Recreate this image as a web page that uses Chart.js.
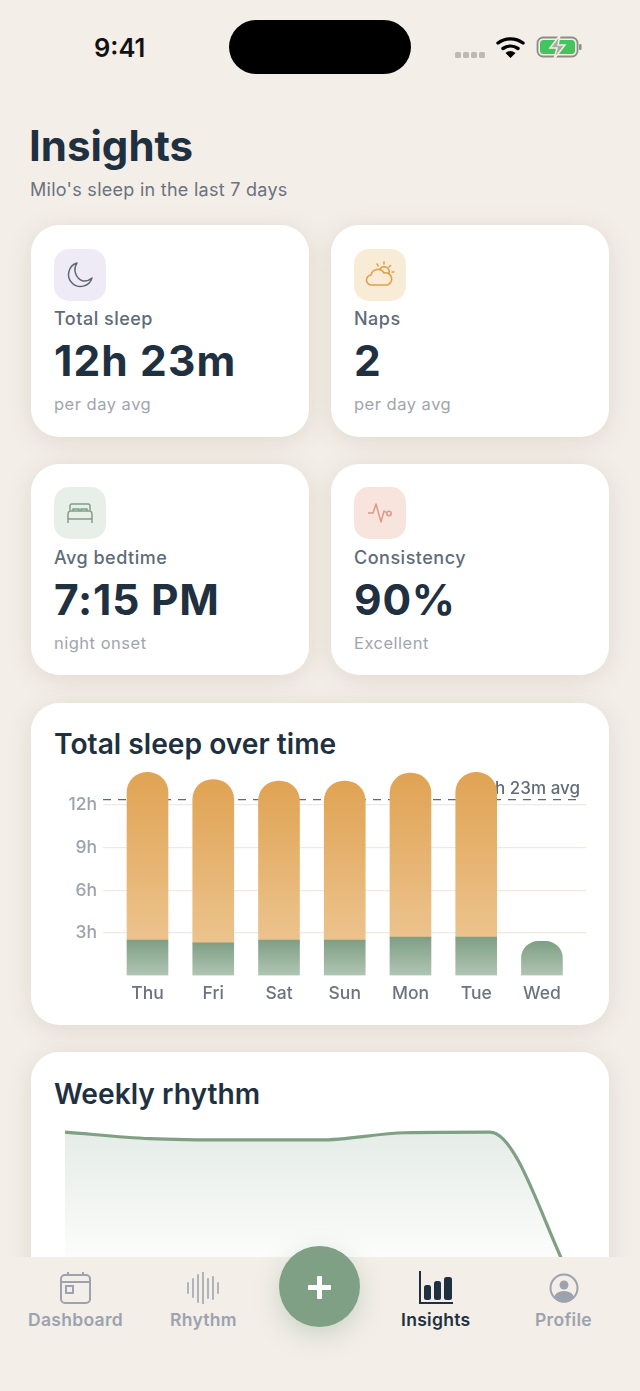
<!DOCTYPE html>
<html><head><meta charset="utf-8">
<script src="https://cdn.jsdelivr.net/npm/chart.js@4"></script>
<style>
*{box-sizing:border-box;margin:0;padding:0}
html,body{width:640px;height:1391px;overflow:hidden;background:#f3eee8;font-family:Inter,sans-serif;-webkit-font-smoothing:antialiased}
.abs,.card,.t{position:absolute}
.t{white-space:nowrap;line-height:1}
.card{background:#fff;border-radius:28px;box-shadow:0 4px 24px rgba(120,100,70,.15)}
.ic{position:absolute;width:52px;height:52px;border-radius:15px;display:flex;align-items:center;justify-content:center}
.lab{font-size:18px;font-weight:500;color:#5f6b76;letter-spacing:.5px}
.val{font-size:42.5px;font-weight:700;color:#1f3040;letter-spacing:.8px}
.sub{font-size:16.5px;color:#a0a5ad;letter-spacing:.5px}
.h2{font-size:28.2px;font-weight:600;color:#1f3040}
.nl{font-size:17.5px;font-weight:600;color:#9ca3af;letter-spacing:.3px}
canvas{position:absolute}
</style></head><body>
<div class="t" style="left:94px;top:35px;font-size:25.5px;font-weight:600;color:#111">9:41</div>
<div class="abs" style="left:229px;top:20px;width:182px;height:54px;border-radius:27px;background:#000"></div>
<svg class="abs" style="left:450px;top:30px" width="140" height="34" viewBox="0 0 140 34">
 <g fill="#bdbab5"><rect x="5" y="22" width="6" height="6" rx="1.5"/><rect x="13" y="22" width="6" height="6" rx="1.5"/><rect x="21" y="22" width="6" height="6" rx="1.5"/><rect x="29" y="22" width="6" height="6" rx="1.5"/></g>
 <g fill="none" stroke="#000" stroke-width="3.4" stroke-linecap="round"><path d="M48 13a21 21 0 0 1 25 0"/><path d="M53 18.500a13 13 0 0 1 15 0"/></g><path d="M60.500 28l-5-5a8 8 0 0 1 10 0z" fill="#000"/>
 <rect x="87.500" y="7.500" width="40" height="19" rx="5.500" fill="#f3eee8" stroke="#8d8d88" stroke-width="1.800"/>
 <rect x="90" y="10" width="35" height="14" rx="3.500" fill="#42c55c"/>
 <rect x="129" y="14" width="2.500" height="6" rx="1" fill="#8d8d88"/>
 <path d="M110 5l-10 13h7l-3 11 11-14h-7z" fill="#a9aca6" stroke="#f3eee8" stroke-width="1.500"/>
</svg>

<div class="t" style="left:29px;top:125px;font-size:42px;font-weight:700;color:#1f3040">Insights</div>
<div class="t" style="left:30px;top:181px;font-size:18px;color:#6b7280;letter-spacing:.27px">Milo's sleep in the last 7 days</div>

<div class="card" style="left:31px;top:225px;width:278px;height:212px"></div>
<div class="ic" style="left:54px;top:249px;background:#eeebf7"><svg width="30" height="30" viewBox="0 0 30 30" fill="none" stroke="#5f6675" stroke-width="1.500"><path d="M12 3a12 12 0 1 0 15 15 12 12 0 0 1-9 3 12 12 0 0 1-6-18z" stroke-linejoin="round"/></svg></div>
<div class="t lab" style="left:54px;top:310px">Total sleep</div>
<div class="t val" style="left:54px;top:340px;letter-spacing:1.1px">12h 23m</div>
<div class="t sub" style="left:54px;top:396px">per day avg</div>

<div class="card" style="left:331px;top:225px;width:278px;height:212px"></div>
<div class="ic" style="left:354px;top:249px;background:#f8ecd6"><svg width="34" height="30" viewBox="0 0 34 30" fill="none" stroke="#e0a04e" stroke-width="1.600" stroke-linecap="round"><path d="M9 25a5 5 0 0 1-1-10 7 7 0 0 1 13-2 6 6 0 0 1 3 12z"/><path d="M17 9a5 5 0 0 1 9 4M21 2v2M29 12h2M27.500 5.500l-1.500 1.500M14 4l1 2"/></svg></div>
<div class="t lab" style="left:354px;top:310px">Naps</div>
<div class="t val" style="left:354px;top:340px">2</div>
<div class="t sub" style="left:354px;top:396px">per day avg</div>

<div class="card" style="left:31px;top:464px;width:278px;height:211px"></div>
<div class="ic" style="left:54px;top:487px;background:#e8efe8"><svg width="30" height="30" viewBox="0 0 30 30" fill="none" stroke="#7fa084" stroke-width="1.500"><path d="M5 13V8a2 2 0 0 1 2-2h16a2 2 0 0 1 2 2v5M3 25v-9a3 3 0 0 1 2-3h20a3 3 0 0 1 2 3v9M3 21h24M8 13v-2h6v2M16 13v-2h6v2"/></svg></div>
<div class="t lab" style="left:54px;top:549px">Avg bedtime</div>
<div class="t val" style="left:54px;top:579px">7:15 PM</div>
<div class="t sub" style="left:54px;top:635px">night onset</div>

<div class="card" style="left:331px;top:464px;width:278px;height:211px"></div>
<div class="ic" style="left:354px;top:487px;background:#f7e4dd"><svg width="30" height="30" viewBox="0 0 30 30" fill="none" stroke="#dc9a88" stroke-width="1.500" stroke-linejoin="round"><path d="M3 15h5l3-9 5 18 3-11 3 2"/><circle cx="24" cy="15.500" r="2.200"/></svg></div>
<div class="t lab" style="left:354px;top:549px">Consistency</div>
<div class="t val" style="left:354px;top:579px">90%</div>
<div class="t sub" style="left:354px;top:635px">Excellent</div>

<div class="card" style="left:31px;top:703px;width:578px;height:322px"></div>
<div class="t h2" style="left:54px;top:730px">Total sleep over time</div>
<canvas id="bars" style="left:31px;top:746px;width:578px;height:265px" width="578" height="265"></canvas>

<div class="card" style="left:31px;top:1052px;width:578px;height:420px"></div>
<div class="t h2" style="left:54px;top:1080px">Weekly rhythm</div>
<canvas id="line" style="left:31px;top:1120px;width:578px;height:200px" width="578" height="200"></canvas>

<div class="abs" style="left:0;top:1257px;width:640px;height:134px;background:#f3eee8"></div>
<svg class="abs" style="left:59px;top:1272px" width="33" height="33" viewBox="0 0 33 33" fill="none" stroke="#9ca3af" stroke-width="2"><rect x="2" y="3" width="29" height="28" rx="4"/><path d="M2 10h29M9 0v4M24 0v4"/><rect x="7" y="14" width="7" height="7"/></svg>
<div class="t nl" style="left:28px;top:1311px">Dashboard</div>
<svg class="abs" style="left:186px;top:1272px" width="35" height="32" viewBox="0 0 35 32" stroke="#a7adb5" stroke-width="1.800" stroke-linecap="round"><path d="M2 11v10M7 7v18M12 3v27M17 0v32M22 7v19M27 5v22M32 11v10"/></svg>
<div class="t nl" style="left:170px;top:1311px">Rhythm</div>
<div class="abs" style="left:279px;top:1246px;width:81px;height:81px;border-radius:50%;background:#7fa084;box-shadow:0 8px 24px rgba(127,160,132,.35)"></div>
<svg class="abs" style="left:307px;top:1275px" width="25" height="25" viewBox="0 0 25 25" fill="#fff"><rect x="10" y="1" width="5" height="23" rx="1"/><rect x="1" y="10" width="23" height="5" rx="1"/></svg>
<svg class="abs" style="left:419px;top:1271px" width="35" height="34" viewBox="0 0 35 34" fill="#1f3040"><path d="M1 0v32h33" fill="none" stroke="#1f3040" stroke-width="2"/><rect x="5" y="14" width="7" height="15" rx="2.500"/><rect x="15" y="10" width="7" height="19" rx="2.500"/><rect x="25" y="6" width="8" height="23" rx="2.500"/></svg>
<div class="t nl" style="left:401px;top:1311px;color:#1f3040">Insights</div>
<svg class="abs" style="left:549px;top:1273px" width="30" height="30" viewBox="0 0 30 30"><circle cx="15" cy="15" r="13.500" fill="none" stroke="#9ca3af" stroke-width="2"/><circle cx="15" cy="12" r="4.500" fill="#9ca3af"/><path d="M5 25a10 7 0 0 1 20 0 13 13 0 0 1-20 0z" fill="#9ca3af"/></svg>
<div class="t nl" style="left:535px;top:1311px">Profile</div>

<script>
const days = ['Thu','Fri','Sat','Sun','Mon','Tue','Wed'];
const napHours = [2.5,2.3,2.5,2.5,2.7,2.7,2.4];
const nightHours = [11.8,11.5,11.2,11.2,11.55,11.6,0];
const avgHours = [12.38,12.38];
const avgLabel = '12h 23m avg';
const yTicks = [3,6,9,12];
const rhythmHours = [14.2,13.7,13.6,13.6,14.15,14.2,2.4];

Chart.defaults.font.family = 'Inter, sans-serif';
Chart.defaults.animation = false;

function barGradient(c, from, to, hiVal, loVal){
  const y = c.chart.scales.y;
  if(!y) return from;
  const y0 = y.getPixelForValue(hiVal), y1 = y.getPixelForValue(loVal);
  if(!Number.isFinite(y0) || !Number.isFinite(y1)) return from;
  const g = c.chart.ctx.createLinearGradient(0,y0,0,y1);
  g.addColorStop(0,from); g.addColorStop(1,to);
  return g;
}
const avgTextPlugin = {
  id:'avgText',
  beforeDatasetsDraw(ch){
    const {ctx,scales:{y},chartArea:a} = ch;
    ctx.save();
    ctx.font='500 17px Inter, sans-serif';
    ctx.fillStyle='#5f6b76';
    ctx.textAlign='right'; ctx.textBaseline='alphabetic';
    ctx.fillText(avgLabel,a.right-6,y.getPixelForValue(avgHours[0])-6);
    ctx.restore();
  }
};
const barChart = new Chart(document.getElementById('bars'),{
  data:{
    labels:days,
    datasets:[
      {type:'bar',label:'Naps',order:1,data:days.map((d,i)=>({x:i,y:napHours[i]})),
       barThickness:41,
       backgroundColor:c=>c.type==='data'?barGradient(c,'#7f9f84','#b0c5b4',napHours[c.dataIndex],0):'#7f9f84',
       borderRadius:c=>c.dataIndex===6?{topLeft:20,topRight:20,bottomLeft:0,bottomRight:0}:0},
      {type:'bar',label:'Night',order:1,data:days.map((d,i)=>({x:i,y:nightHours[i]})),
       barThickness:41,
       backgroundColor:c=>c.type==='data'?barGradient(c,'#e0a353','#ecc38d',napHours[c.dataIndex]+nightHours[c.dataIndex],napHours[c.dataIndex]):'#e0a353',
       borderRadius:{topLeft:20,topRight:20,bottomLeft:0,bottomRight:0}},
      {type:'line',label:'Average',order:3,data:[{x:-0.677,y:avgHours[0]},{x:6.62,y:avgHours[1]}],
       borderColor:'#5f6b76',borderWidth:1.3,borderDash:[8,7],pointRadius:0,fill:false}
    ]
  },
  plugins:[avgTextPlugin],
  options:{
    responsive:false,
    devicePixelRatio:1,
    layout:{padding:{left:0,right:23,top:0,bottom:0}},
    plugins:{legend:{display:false},tooltip:{enabled:false}},
    scales:{
      x:{type:'linear',stacked:true,offset:false,bounds:'data',min:-0.677,max:6.67,
         grid:{display:false,drawTicks:false},border:{display:false},
         afterBuildTicks:s=>{s.ticks=days.map((d,i)=>({value:i}))},
         afterFit:s=>{s.height=35.5},
         ticks:{stepSize:1,autoSkip:false,maxRotation:0,padding:8,color:'#6b7280',font:{size:17.5,weight:'500'},callback:v=>days[v]}},
      y:{stacked:true,min:0,max:15,
         afterBuildTicks:s=>{s.ticks=yTicks.map(v=>({value:v}))},
         afterFit:s=>{s.width=72},
         grid:{color:'#eeeadf',lineWidth:1.3,drawTicks:false},border:{display:false},
         ticks:{padding:6,color:'#9ca3af',font:{size:17.5,weight:'500'},callback:v=>v+'h'}}
    }
  }
});
barChart.update();
const lineChart = new Chart(document.getElementById('line'),{
  type:'line',
  data:{labels:days,datasets:[{
    data:rhythmHours,
    borderColor:'#7fa084',borderWidth:3.2,cubicInterpolationMode:'monotone',pointRadius:0,
    fill:'origin',
    backgroundColor:c=>{
      const a=c.chart.chartArea;
      if(!a || !Number.isFinite(a.top) || !Number.isFinite(a.bottom)) return 'transparent';
      const g=c.chart.ctx.createLinearGradient(0,a.top+10,0,a.bottom-40);
      g.addColorStop(0,'rgba(127,160,132,.20)');g.addColorStop(1,'rgba(127,160,132,0)');
      return g;
    }
  }]},
  options:{
    responsive:false,devicePixelRatio:1,
    layout:{padding:{left:34,right:34,top:0,bottom:0}},
    plugins:{legend:{display:false},tooltip:{enabled:false}},
    scales:{x:{display:false,offset:false},y:{display:false,min:0,max:15}}
  }
});
lineChart.update();
</script>
</body></html>
